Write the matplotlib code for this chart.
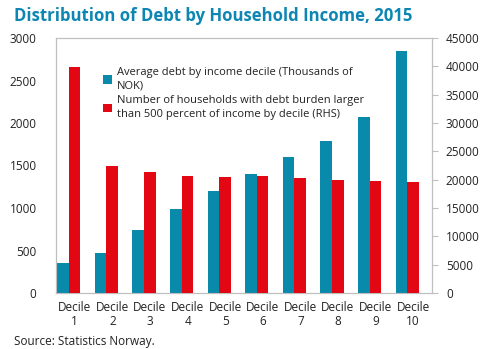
import matplotlib.pyplot as plt
import numpy as np

plt.rcParams['font.family'] = ['Open Sans', 'DejaVu Sans']

deciles = ['Decile\n%d' % i for i in range(1, 11)]
avg_debt = [350, 475, 740, 985, 1205, 1405, 1595, 1790, 2070, 2845]
n_households = [39800, 22400, 21300, 20600, 20400, 20600, 20250, 20000, 19800, 19550]

blue = '#0a8aab'
red = '#e30613'
grey = '#bfbfbf'

fig = plt.figure(figsize=(4.87, 3.49), dpi=100)
ax = fig.add_axes([56 / 487, 1 - 293 / 349, 376 / 487, 255 / 349])
ax2 = ax.twinx()

x = np.arange(len(deciles))
w = 0.31
shift = -0.16  # groups sit a bit left of the tick labels
b1 = ax.bar(x + shift - w / 2, avg_debt, w, color=blue, zorder=3)
b2 = ax2.bar(x + shift + w / 2, n_households, w, color=red, zorder=3)

ax.set_xlim(-0.5, 9.5)
ax.set_ylim(0, 3000)
ax.set_yticks(range(0, 3001, 500))
ax2.set_ylim(0, 45000)
ax2.set_yticks(range(0, 45001, 5000))
ax.set_xticks(x)
ax.set_xticklabels(deciles, fontsize=8.5, linespacing=1.1)

for a in (ax, ax2):
    for s in a.spines.values():
        s.set_color(grey)
    a.tick_params(labelsize=8.5, colors='#222222')
ax.tick_params(axis='x', length=0, pad=6)
ax.tick_params(axis='y', length=0, pad=14)
ax2.tick_params(axis='y', length=4, color=grey, pad=6)

leg = ax.legend([b1, b2],
                ['Average debt by income decile (Thousands of\nNOK)',
                 'Number of households with debt burden larger\nthan 500 percent of income by decile (RHS)'],
                loc='upper left', bbox_to_anchor=(0.114, 0.905), frameon=False,
                fontsize=8, handlelength=0.8, handleheight=0.8, handletextpad=0.4,
                labelspacing=0.3, borderaxespad=0)
for t in leg.get_texts():
    t.set_linespacing(1.4)
    t.set_color('#222222')

fig.text(14 / 487, 1 - 16 / 349, 'Distribution of Debt by Household Income, 2015',
         fontsize=12.1, fontweight='bold', color='#0d86b3', va='center')
fig.text(14 / 487, 1 - 341 / 349, 'Source: Statistics Norway.', fontsize=8.5,
         color='#222222', va='center')

fig.savefig('out.png', dpi=100)
